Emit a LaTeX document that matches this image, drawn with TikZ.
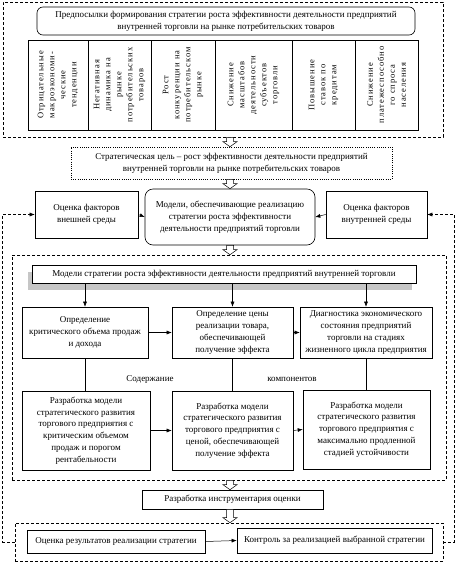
\documentclass[tikz,border=0pt]{standalone}
\usepackage{fontspec}
\setmainfont{Liberation Serif}
\newfontfamily\vfont[LetterSpace=11]{Liberation Serif}
\usetikzlibrary{arrows.meta,calc,shadows}
\newcommand\hollowarr[3]{%
  \path let \p1=(#2), \p2=(#3) in
    [draw=black, line width=0.5pt, fill=white]
    (#1pt-3.5pt,\y1) -- (#1pt-3.5pt,\y2+5pt) -- (#1pt-7pt,\y2+5pt) -- (#1pt,\y2)
    -- (#1pt+7pt,\y2+5pt) -- (#1pt+3.5pt,\y2+5pt) -- (#1pt+3.5pt,\y1) -- cycle;}
\begin{document}
\begin{tikzpicture}[x=1pt,y=1pt,
  every node/.style={inner sep=1pt},
  txt/.style={font=\fontsize{9}{11.8}\selectfont},
  box/.style={draw, line width=0.6pt, align=center, fill=white, txt},
  rbox/.style={box, rounded corners=7pt},
  vbox/.style={draw, line width=0.6pt, rotate=90, align=center, minimum width=90pt,
               font=\vfont\fontsize{8.5}{11}\selectfont},
  frame/.style={draw, line width=0.6pt, dash pattern=on 3pt off 2pt},
  dotbox/.style={box, dash pattern=on 1pt off 1.2pt},
  conn/.style={line width=0.5pt},
  arr/.style={conn, -{Latex[length=5pt,width=4pt]}},
  farr/.style={arr, dash pattern=on 3pt off 2pt},
  lbl/.style={txt}
]
\useasboundingbox (0,0) rectangle (456,-563);

% top frame
\node[frame, minimum width=440pt, minimum height=135pt] (topf) at (223,-69.5) {};
\node[rbox, minimum width=378pt, minimum height=28pt, rounded corners=6pt] (pre) at (226,-21)
  {Предпосылки формирования стратегии роста эффективности деятельности предприятий\\
   внутренней торговли на рынке потребительских товаров};
\node[vbox, minimum height=60pt] (p1) at (58,-85) {Отрицательные\\ макроэкономи-\\ ческие\\ тенденции};
\node[vbox, minimum height=63pt] (p2) at (119.5,-85) {Негативная\\ динамика на\\ рынке\\ потребительских\\ товаров};
\node[vbox, minimum height=64pt] (p3) at (183,-85) {Рост\\ конкуренции на\\ потребительском\\ рынке};
\node[vbox, minimum height=77pt] (p4) at (253.5,-85) {Снижение\\ масштабов\\ деятельности\\ субъектов\\ торговли};
\node[vbox, minimum height=63pt] (p5) at (323.5,-85) {Повышение\\ ставок по\\ кредитам};
\node[vbox, minimum height=63pt] (p6) at (386.5,-85) {Снижение\\ платежеспособно\\ го спроса\\ населения};

% goal
\node[dotbox, minimum width=321pt, minimum height=32pt] (goal) at (231.5,-163)
  {Стратегическая цель – рост эффективности деятельности предприятий\\
   внутренней торговли на рынке потребительских товаров};

% middle row
\node[box, minimum width=103pt, minimum height=47pt] (lf) at (86.5,-214.5) {Оценка факторов\\ внешней среды};
\node[rbox, minimum width=170pt, minimum height=56pt, rounded corners=8pt] (cm) at (230,-217)
  {Модели, обеспечивающие реализацию\\ стратегии роста эффективности\\ деятельности предприятий торговли};
\node[box, minimum width=101pt, minimum height=47pt] (rf) at (376.5,-214.5) {Оценка факторов\\ внутренней среды};

% big frame
\node[frame, minimum width=434pt, minimum height=225pt] (bigf) at (229,-367.5) {};
\node[box, minimum width=384pt, minimum height=18pt,
      drop shadow={shadow xshift=-4pt, shadow yshift=-7pt, fill=gray!45, opacity=1}] (mh) at (224,-274)
  {Модели стратегии роста эффективности деятельности предприятий внутренней торговли};

\node[box, minimum width=126pt, minimum height=51pt] (b1) at (85,-332.5)
  {Определение\\ критического объема продаж\\ и дохода};
\node[box, minimum width=121pt, minimum height=51pt] (b2) at (232.5,-332.5)
  {Определение цены\\ реализации товара,\\ обеспечивающей\\ получение эффекта};
\node[box, minimum width=132pt, minimum height=51pt] (b3) at (366,-332.5)
  {Диагностика экономического\\ состояния предприятий\\ торговли на стадиях\\ жизненного цикла предприятия};

\node[box, minimum width=128pt, minimum height=79pt] (c1) at (86,-430.5)
  {Разработка модели\\ стратегического развития\\ торгового предприятия с\\ критическим объемом\\ продаж и порогом\\ рентабельности};
\node[box, minimum width=121pt, minimum height=79pt] (c2) at (232.5,-430.5)
  {Разработка модели\\ стратегического развития\\ торгового предприятия с\\ ценой, обеспечивающей\\ получение эффекта};
\node[box, minimum width=127pt, minimum height=79pt] (c3) at (366.5,-429.5)
  {Разработка модели\\ стратегического развития\\ торгового предприятия с\\ максимально продленной\\ стадией устойчивости};

\node[lbl] (l1) at (150,-379) {Содержание};
\node[lbl] (l2) at (292,-379) {компонентов};

% tool
\node[box, minimum width=181pt, minimum height=19pt] (tool) at (232.5,-499.5) {Разработка инструментария оценки};

% bottom frame
\node[frame, minimum width=428pt, minimum height=38pt] (botf) at (229,-542) {};
\node[box, minimum width=178pt, minimum height=23pt] (d1) at (116,-541.5) {Оценка результатов реализации стратегии};
\node[box, minimum width=195pt, minimum height=25pt] (d2) at (334.5,-540.5) {Контроль за реализацией выбранной стратегии};

% connectors
\draw[arr] (lf.east) -- (cm.west);
\draw[arr] (rf.west) -- (cm.east);
\draw[farr] (botf.west) -- ++(-12,0) |- (lf.west);
\draw[farr] (botf.east) -- ++(11,0) |- (rf.east);

\draw[arr] (mh.south -| b1.north) -- (b1.north);
\draw[arr] (mh.south -| b2.north) -- (b2.north);
\draw[arr] (mh.south -| b3.north) -- (b3.north);
\draw[arr] (b1.east) -- (b2.west);
\draw[arr] (b2.east) -- (b3.west);
\draw[conn] (b1.south) -- (b1.south |- c1.north);
\draw[conn] (b2.south) -- (b2.south |- c2.north);
\draw[conn] (b3.south) -- (b3.south |- c3.north);
\draw[arr] (c1.east) -- (c2.west);
\draw[arr] (c2.east) -- (c3.west);
\draw[arr] (d1.east) -- (d2.west);

\hollowarr{230}{topf.south}{goal.north}
\hollowarr{230}{goal.south}{cm.north}
\hollowarr{230}{cm.south}{bigf.north}
\hollowarr{230}{bigf.south}{tool.north}
\hollowarr{230}{tool.south}{botf.north}
\end{tikzpicture}
\end{document}
